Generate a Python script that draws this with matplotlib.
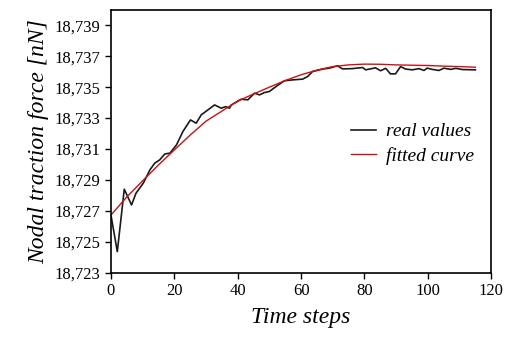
import numpy as np
import matplotlib
matplotlib.use('Agg')
import matplotlib.pyplot as plt
from matplotlib.ticker import FuncFormatter

# measured traction force over the time steps
steps_real = [0, 2.0, 4.2, 6.5, 7.9, 10.2, 12.3, 13.8, 15.4, 17.0, 18.6, 20.7, 22.7, 25.1,
              26.9, 28.5, 30.6, 32.7, 34.8, 36.2, 37.4, 38.0, 41.1, 43.2, 45.3, 46.9, 48.4,
              50.0, 52.1, 54.7, 57.3, 60.5, 62.1, 63.6, 66.8, 68.9, 71.5, 73.1, 76.2, 79.4,
              80.4, 83.5, 85.1, 86.7, 88.2, 89.8, 91.4, 93.0, 95.1, 97.2, 98.8, 99.8, 101.4,
              103.5, 105.1, 107.2, 108.8, 110.9, 115.0]
force_real = [18.72673, 18.72436, 18.72840, 18.72738, 18.72814, 18.72879, 18.72965, 18.73008,
              18.73030, 18.73068, 18.73073, 18.73127, 18.73213, 18.73288, 18.73267, 18.73321,
              18.73353, 18.73385, 18.73364, 18.73374, 18.73364, 18.73385, 18.73422, 18.73418,
              18.73461, 18.73450, 18.73465, 18.73472, 18.73504, 18.73541, 18.73547, 18.73552,
              18.73569, 18.73601, 18.73617, 18.73623, 18.73638, 18.73618, 18.73620, 18.73627,
              18.73612, 18.73625, 18.73606, 18.73622, 18.73586, 18.73586, 18.73633, 18.73617,
              18.73612, 18.73620, 18.73608, 18.73623, 18.73615, 18.73608, 18.73623, 18.73615,
              18.73622, 18.73614, 18.73612]

# fitted curve
steps_fit = [0, 5, 10, 15, 20, 25, 30, 35, 40, 45, 50, 55, 60, 65, 70, 75, 80, 85, 90,
             95, 100, 105, 110, 115]
force_fit = [18.72673, 18.72790, 18.72894, 18.72997, 18.73094, 18.73190, 18.73280, 18.73345,
             18.73410, 18.73456, 18.73500, 18.73543, 18.73580, 18.73610, 18.73633, 18.73644,
             18.73649, 18.73648, 18.73644, 18.73642, 18.73640, 18.73636, 18.73633, 18.73629]

plt.rcParams['font.family'] = ['Liberation Serif', 'DejaVu Serif']

fig = plt.figure(figsize=(5.09, 3.40), dpi=100)
ax = fig.add_axes([0.218, 0.198, 0.747, 0.773])

ax.plot(steps_real, force_real, color='#1a1a1a', lw=1.2, label='real values')
ax.plot(steps_fit, force_fit, color='#d01010', lw=1.0, label='fitted curve')

ax.set_xlim(0, 120)
ax.set_ylim(18.723, 18.740)
ax.set_xticks(np.arange(0, 121, 20))
ax.set_yticks(np.arange(18.723, 18.7395, 0.002))
ax.yaxis.set_major_formatter(FuncFormatter(lambda v, p: f'{v:.3f}'.replace('.', ',')))
ax.tick_params(direction='out', length=4, width=1, labelsize=12, top=False, right=False)
for s in ax.spines.values():
    s.set_linewidth(1.2)

ax.set_xlabel('Time steps', fontsize=17, style='italic', labelpad=6)
ax.set_ylabel('Nodal traction force [nN]', fontsize=17, style='italic', labelpad=4)

leg = ax.legend(loc='center right', bbox_to_anchor=(1.0, 0.49), frameon=False,
                handlelength=1.3, handletextpad=0.5, labelspacing=0.35,
                prop={'size': 14, 'style': 'italic'})

fig.savefig('out.png', dpi=100)
plt.close('all')
